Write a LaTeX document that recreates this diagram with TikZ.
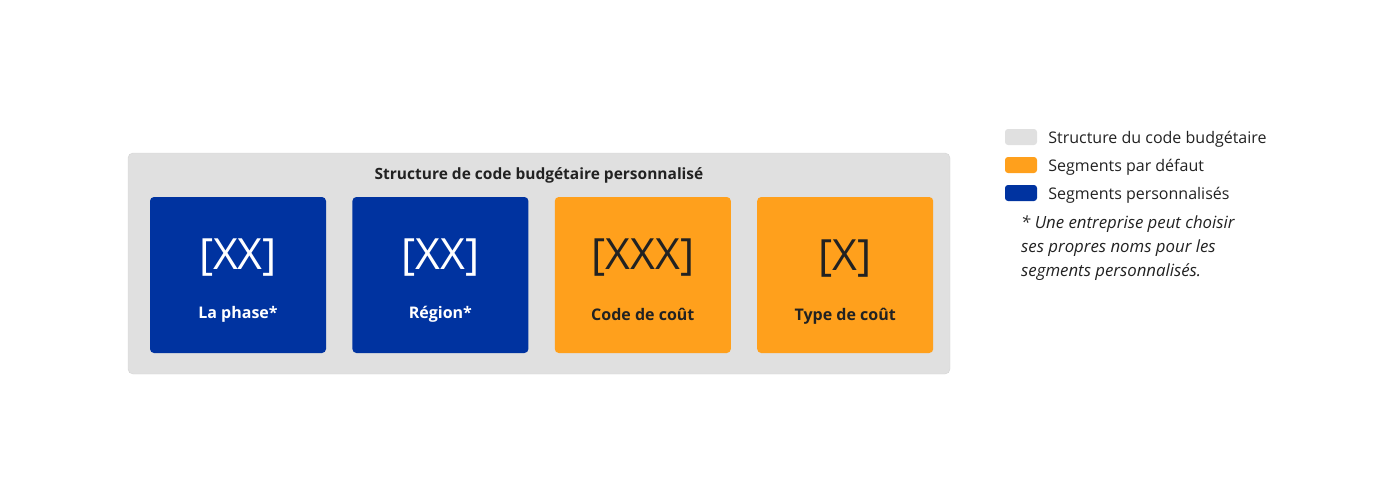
\documentclass[tikz,border=0pt]{standalone}
\usepackage{fontspec}
\setmainfont{Open Sans}
\usetikzlibrary{positioning}
\definecolor{segblue}{HTML}{0033A0}
\definecolor{segorange}{HTML}{FFA01C}
\definecolor{structgray}{HTML}{E0E0E0}
\definecolor{structline}{HTML}{D4D4D4}
\definecolor{darktext}{HTML}{222222}

\begin{document}
\begin{tikzpicture}[x=1pt,y=-1pt,node distance=26pt,
    segment/.style={rectangle,rounded corners=4pt,minimum width=176pt,minimum height=156pt,inner sep=0pt},
    custom/.style={segment,fill=segblue},
    default/.style={segment,fill=segorange},
    code/.style={font=\fontsize{43}{47}\selectfont,inner sep=0pt},
    segname/.style={font=\bfseries\fontsize{16}{19}\selectfont,inner sep=0pt},
    swatch/.style={rectangle,rounded corners=3pt,minimum width=32pt,minimum height=16pt,inner sep=0pt},
    legendtext/.style={font=\fontsize{16}{20}\selectfont,text=darktext,inner sep=0pt,anchor=west}]
  \useasboundingbox (0,0) rectangle (1396,503);

  % outer structure
  \node[rectangle,rounded corners=5pt,fill=structgray,draw=structline,
        minimum width=822pt,minimum height=221pt] (struct) at (539,263.5) {};
  \node[segname,font=\bfseries\fontsize{15.5}{19}\selectfont,text=darktext] (title) at (539,175)
        {Structure de code budgétaire personnalisé};

  % segments
  \node[custom]  (phase)  at (238,275) {};
  \node[custom]  (region) [right=of phase]  {};
  \node[default] (cost)   [right=of region] {};
  \node[default] (type)   [right=of cost]   {};

  \node[code,text=white]    at ([yshift=17pt]phase.center)  {[XX]};
  \node[segname,text=white] at ([yshift=-39pt]phase.center) {La phase*};
  \node[code,text=white]    at ([yshift=17pt]region.center)  {[XX]};
  \node[segname,text=white] at ([yshift=-39pt]region.center) {Région*};
  \node[code,text=darktext]    at ([yshift=17pt]cost.center)  {[XXX]};
  \node[segname,text=darktext] at ([yshift=-39pt]cost.center) {Code de coût};
  \node[code,text=darktext]    at ([yshift=16pt]type.center)  {[X]};
  \node[segname,text=darktext] at ([yshift=-41pt]type.center) {Type de coût};

  % legend
  \node[swatch,fill=structgray] (sgray)   at (1021,137) {};
  \node[swatch,fill=segorange]  (sorange) at (1021,165) {};
  \node[swatch,fill=segblue]    (sblue)   at (1021,193) {};
  \node[legendtext] (lgray)   [right=11pt of sgray,yshift=-2pt]   {Structure du code budgétaire};
  \node[legendtext] (lorange) [right=11pt of sorange,yshift=-2pt] {Segments par défaut};
  \node[legendtext] (lblue)   [right=11pt of sblue,yshift=-2pt]   {Segments personnalisés};
  \node[font=\itshape\fontsize{16.8}{24}\selectfont,text=darktext,inner sep=0pt,
        anchor=north west,align=left] (note) at (1021,215)
        {* Une entreprise peut choisir\\ses propres noms pour les\\segments personnalisés.};
\end{tikzpicture}
\end{document}
